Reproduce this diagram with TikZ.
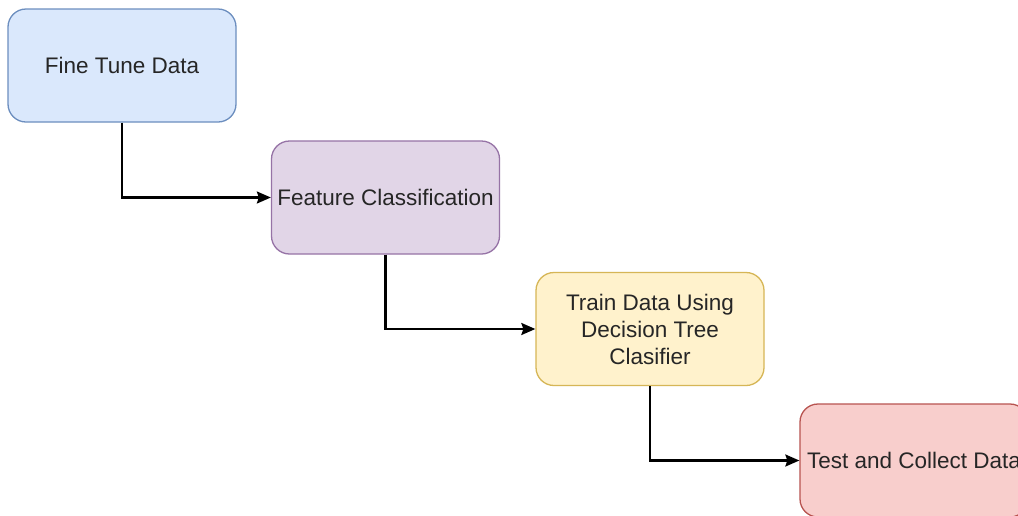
\documentclass[tikz,border=0pt]{standalone}
\usepackage{fontspec}
\setmainfont{Liberation Sans}
\usetikzlibrary{arrows.meta}
\definecolor{blueFill}{HTML}{DAE8FC}
\definecolor{blueLine}{HTML}{6C8EBF}
\definecolor{purpleFill}{HTML}{E1D5E7}
\definecolor{purpleLine}{HTML}{9673A6}
\definecolor{yellowFill}{HTML}{FFF2CC}
\definecolor{yellowLine}{HTML}{D6B656}
\definecolor{redFill}{HTML}{F8CECC}
\definecolor{redLine}{HTML}{B85450}
\definecolor{labelText}{HTML}{262626}
\begin{document}
\begin{tikzpicture}[x=1pt,y=-1pt,
  stepbox/.style={draw, rounded corners=18pt, minimum width=228pt,
    minimum height=113pt, line width=1.3pt, inner sep=0pt, align=center,
    text=labelText, font=\fontsize{22.5}{27}\selectfont},
  conn/.style={draw=black, line width=2.1pt,
    -{Stealth[length=14pt, width=12pt, inset=2pt]}}]
\useasboundingbox (0,0) rectangle (1018,515);
\fill[white] (0,0) rectangle (1018,515);
\clip (0,0) rectangle (1018,515);

\node[stepbox, fill=blueFill, draw=blueLine] (tune) at (122,65.5) {Fine Tune Data};
\node[stepbox, fill=purpleFill, draw=purpleLine] (feat) at (385.5,197.5) {Feature Classification};
\node[stepbox, fill=yellowFill, draw=yellowLine] (train) at (650,329) {Train Data Using\\Decision Tree\\Clasifier};
\node[stepbox, fill=redFill, draw=redLine] (test) at (914,460.5) {Test and Collect Data};

\draw[conn] (tune.south) |- (feat.west);
\draw[conn] (feat.south) |- (train.west);
\draw[conn] (train.south) |- (test.west);
\end{tikzpicture}
\end{document}
